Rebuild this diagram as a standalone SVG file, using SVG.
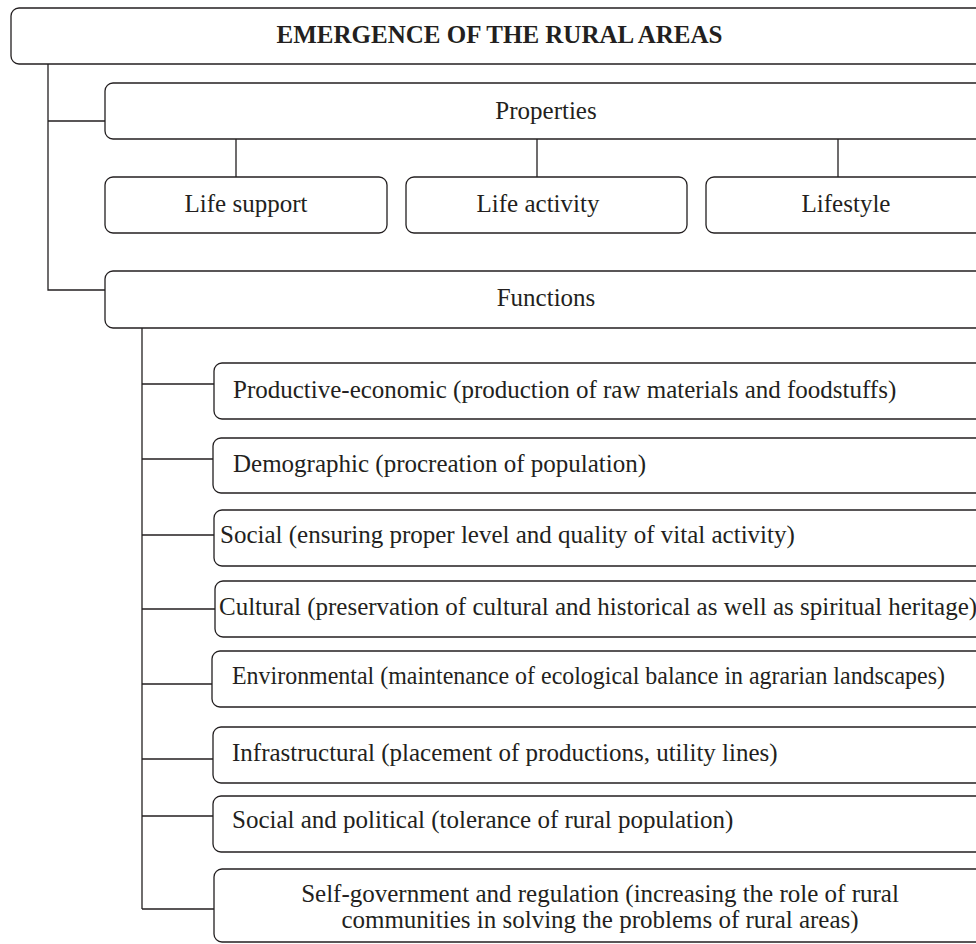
<svg xmlns="http://www.w3.org/2000/svg" width="976" height="944" viewBox="0 0 976 944">
<style>
.box{fill:#fff;stroke:#231f20;stroke-width:1.3}
.ln{fill:none;stroke:#231f20;stroke-width:1.3}
.t{font-family:"Liberation Serif","Times New Roman",serif;font-size:25px;fill:#231f20}
.c{text-anchor:middle}
.b{font-weight:bold}
</style>
<rect width="976" height="944" fill="#fff"/>
<g id="connectors">
<path class="ln" d="M48,64V290H106M48,121H106"/>
<path class="ln" d="M236,139V177M537,139V177M838,139V177"/>
<path class="ln" d="M142,328V909"/>
<path class="ln" d="M142,384H217M142,459H217M142,535H217M142,609H217M142,684H217M142,759H217M142,816H217M142,909H217"/>
</g>
<g id="root"><rect class="box" x="11" y="8" width="977" height="56" rx="8"/><text class="t c b" x="499.5" y="43">EMERGENCE OF THE RURAL AREAS</text></g>
<g id="properties"><rect class="box" x="105" y="83" width="883" height="56" rx="8"/><text class="t c" x="546" y="119">Properties</text></g>
<g id="life-support"><rect class="box" x="105" y="177" width="282" height="56" rx="8"/><text class="t c" x="246" y="212">Life support</text></g>
<g id="life-activity"><rect class="box" x="406" y="177" width="281" height="56" rx="8"/><text class="t c" x="538" y="212">Life activity</text></g>
<g id="lifestyle"><rect class="box" x="706" y="177" width="282" height="56" rx="8"/><text class="t c" x="846" y="212">Lifestyle</text></g>
<g id="functions"><rect class="box" x="105" y="271" width="883" height="57" rx="8"/><text class="t c" x="546" y="306">Functions</text></g>
<g id="f1"><rect class="box" x="214" y="363" width="774" height="56" rx="8"/><text class="t" x="233" y="398">Productive-economic (production of raw materials and foodstuffs)</text></g>
<g id="f2"><rect class="box" x="213" y="438" width="775" height="55" rx="8"/><text class="t" x="233" y="472">Demographic (procreation of population)</text></g>
<g id="f3"><rect class="box" x="214" y="510" width="774" height="56" rx="8"/><text class="t" x="220" y="543">Social (ensuring proper level and quality of vital activity)</text></g>
<g id="f4"><rect class="box" x="215" y="581" width="773" height="56" rx="8"/><text class="t" x="219" y="615">Cultural (preservation of cultural and historical as well as spiritual heritage)</text></g>
<g id="f5"><rect class="box" x="212" y="651" width="776" height="56" rx="8"/><text class="t" x="232" y="684" textLength="713" lengthAdjust="spacingAndGlyphs">Environmental (maintenance of ecological balance in agrarian landscapes)</text></g>
<g id="f6"><rect class="box" x="213" y="727" width="775" height="56" rx="8"/><text class="t" x="232" y="761">Infrastructural (placement of productions, utility lines)</text></g>
<g id="f7"><rect class="box" x="213" y="796" width="775" height="56" rx="8"/><text class="t" x="232" y="828">Social and political (tolerance of rural population)</text></g>
<g id="f8"><rect class="box" x="214" y="869" width="774" height="73" rx="8"/><text class="t c" x="600" y="902">Self-government and regulation (increasing the role of rural</text><text class="t c" x="600" y="928">communities in solving the problems of rural areas)</text></g>
</svg>
